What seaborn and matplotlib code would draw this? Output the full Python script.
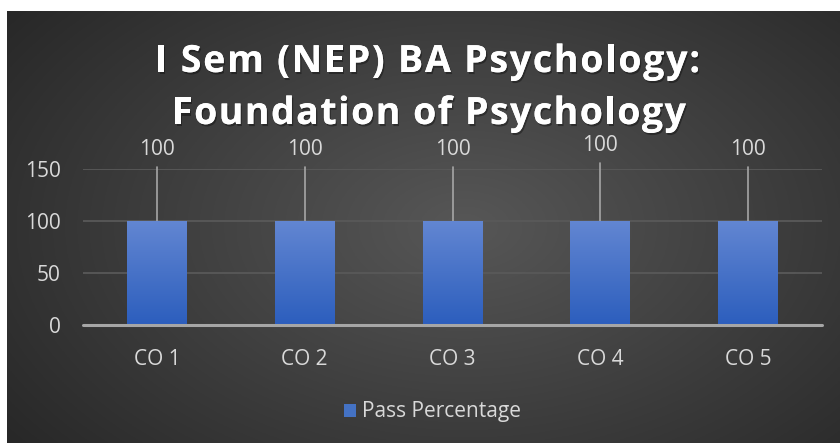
import numpy as np
import pandas as pd
import matplotlib
matplotlib.use("Agg")
import matplotlib.pyplot as plt
from matplotlib.font_manager import FontProperties
import matplotlib.patheffects as pe
import seaborn as sns

categories = ["CO 1", "CO 2", "CO 3", "CO 4", "CO 5"]
pass_pct = [100, 100, 100, 100, 100]
series_name = "Pass Percentage"
title_lines = ["I Sem (NEP) BA Psychology:", "Foundation of Psychology"]
yticks = [0, 50, 100, 150]

df = pd.DataFrame({"cat": categories, "val": pass_pct})

sns.set_theme(style="dark")
plt.rcParams["font.family"] = ["Open Sans", "DejaVu Sans"]

W, H = 840, 443
fig = plt.figure(figsize=(W / 100, H / 100), dpi=100, facecolor="white")

# background panel with radial-ish gradient
bx0, by1 = 7 / W, (H - 11) / H
bg = fig.add_axes([bx0, 0, 1 - bx0, by1])
bg.set_axis_off()
yy, xx = np.mgrid[0:1:300j, 0:1:500j]
d = np.sqrt(((xx - 0.55) / 0.75) ** 2 + ((yy - 0.5) / 0.9) ** 2)
v = np.clip(0.34 - 0.2 * d, 0.15, 0.34)
bg.imshow(np.dstack([v, v, v]), extent=[0, 1, 0, 1], aspect="auto", origin="lower")
bg.set_xlim(0, 1)
bg.set_ylim(0, 1)

# main axes: x 83..822 px, y 169(150)..325(0)
ax_l, ax_r = 83 / W, 822 / W
y0px, y150px = 325, 169
ax = fig.add_axes([ax_l, (H - y0px) / H, ax_r - ax_l, (y0px - y150px) / H])
ax.patch.set_alpha(0)

sns.barplot(data=df, x="cat", y="val", ax=ax, color="#4472c4", width=0.405,
            saturation=1, label=series_name)
ax.set_ylim(0, 150)
ax.set_xlim(-0.5, len(categories) - 0.5)
ax.set_yticks(yticks)
ax.set_xlabel("")
ax.set_ylabel("")
for s in ax.spines.values():
    s.set_visible(False)
ax.grid(False)
for t in yticks[1:]:
    ax.axhline(t, color="#595959", lw=1.3, zorder=0)
ax.axhline(0, color="#a6a6a6", lw=2.2, zorder=3, clip_on=False)
ax.tick_params(axis="both", colors="#d9d9d9", labelsize=15, length=0)
ax.tick_params(axis="y", pad=16)
ax.tick_params(axis="x", pad=17)

# gradient fill on bars
grad = np.linspace(0, 1, 100).reshape(-1, 1)
top = np.array([0x62, 0x86, 0xd2]) / 255
bot = np.array([0x2c, 0x5e, 0xbd]) / 255
cols = bot + (top - bot) * grad
img = np.repeat(cols[:, None, :], 2, axis=1)
for p in ax.patches:
    x, y = p.get_x(), p.get_y()
    w, h = p.get_width(), p.get_height()
    p.set_facecolor("none")
    p.set_edgecolor("none")
    im = ax.imshow(img, extent=[x, x + w, y, y + h], origin="lower",
                   aspect="auto", zorder=2)
    im.set_clip_path(p)
ax.set_xlim(-0.5, len(categories) - 0.5)
ax.set_ylim(0, 150)

# data labels with leader lines
label_y = [169, 169, 169, 173, 169]
line_top = [152, 152, 152, 156, 152]
for i, val in enumerate(pass_pct):
    ax.plot([i, i], [val, line_top[i]], color="#a6a6a6", lw=1.2,
            zorder=1, clip_on=False)
    ax.text(i, label_y[i], f"{val}", ha="center", va="center", color="#d9d9d9",
            fontsize=15)

# title with letter spacing (drawn char by char)
renderer = fig.canvas.get_renderer()
fp = FontProperties(family=["Open Sans", "DejaVu Sans"], weight="bold", size=27)


def tw(s):
    w, _, _ = renderer.get_text_width_height_descent(s, fp, ismath=False)
    return w


shadow = [pe.withSimplePatchShadow(offset=(1, -1.5), shadow_rgbFace="black", alpha=0.35),
          pe.Normal()]
specs = [(title_lines[0], 427.5, 545, 72), (title_lines[1], 429, 514, 124)]
for s, cx, target, base in specs:
    adv = [tw("a" + c + "a") - tw("aa") for c in s]
    natural = sum(adv)
    gap = (target - natural) / (len(s) - 1)
    xpx = cx - target / 2
    for c, a in zip(s, adv):
        if c != " ":
            fig.text(xpx / W, (H - base) / H, c, fontproperties=fp, color="white",
                     ha="left", va="baseline", path_effects=shadow)
        xpx += a + gap

leg = ax.legend(loc="center",
                bbox_to_anchor=(0.5 + (-20) / (ax_r - ax_l) / W, (325 - 412) / (y0px - y150px)),
                frameon=False, fontsize=15, labelcolor="#d9d9d9",
                handlelength=0.6, handleheight=0.6, handletextpad=0.3)
for h in leg.legend_handles:
    h.set_facecolor("#4472c4")
    h.set_edgecolor("none")

fig.savefig("out.png", dpi=100, facecolor="white")
